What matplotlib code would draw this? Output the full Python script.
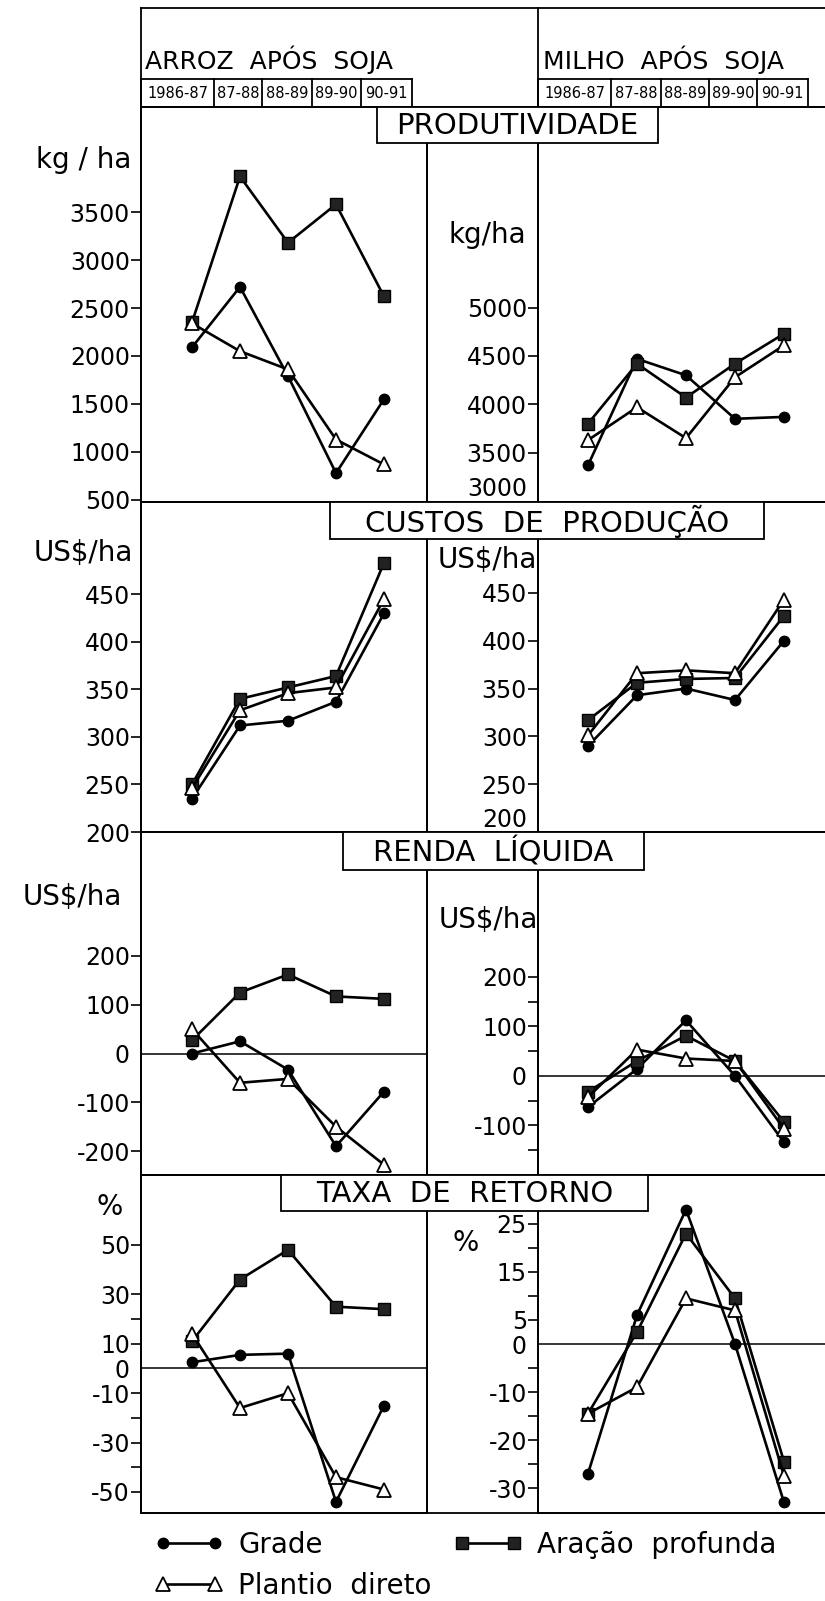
import matplotlib
matplotlib.use("Agg")
import matplotlib.pyplot as plt
from matplotlib.lines import Line2D
from matplotlib.patches import Rectangle

plt.rcParams['font.family'] = ['DejaVu Sans']
plt.rcParams['axes.unicode_minus'] = False

# ---------------- data ----------------
years = ['1986-87', '87-88', '88-89', '89-90', '90-91']
series = ['Grade', 'Aração  profunda', 'Plantio  direto']

arroz_prod_grade = [2090, 2720, 1790, 780, 1550]
arroz_prod_aracao = [2350, 3870, 3180, 3580, 2620]
arroz_prod_plantio = [2340, 2050, 1860, 1130, 870]
milho_prod_grade = [3370, 4470, 4300, 3850, 3870]
milho_prod_aracao = [3800, 4420, 4070, 4420, 4730]
milho_prod_plantio = [3630, 3970, 3650, 4280, 4610]

arroz_custo_grade = [235, 312, 317, 337, 430]
arroz_custo_aracao = [250, 340, 352, 364, 483]
arroz_custo_plantio = [246, 328, 346, 352, 445]
milho_custo_grade = [290, 343, 350, 338, 400]
milho_custo_aracao = [317, 356, 360, 361, 426]
milho_custo_plantio = [301, 366, 369, 366, 443]

arroz_renda_grade = [0, 25, -33, -190, -78]
arroz_renda_aracao = [27, 125, 162, 117, 112]
arroz_renda_plantio = [50, -60, -52, -150, -228]
milho_renda_grade = [-63, 14, 112, 0, -134]
milho_renda_aracao = [-32, 30, 81, 30, -93]
milho_renda_plantio = [-43, 53, 35, 30, -107]

arroz_taxa_grade = [2.5, 5.5, 6, -54, -15]
arroz_taxa_aracao = [11, 36, 48, 25, 24]
arroz_taxa_plantio = [14, -16, -10, -44, -49]
milho_taxa_grade = [-27, 6, 28, 0, -33]
milho_taxa_aracao = [-14.5, 2.5, 23, 9.5, -24.5]
milho_taxa_plantio = [-14.5, -9, 9.5, 7, -27.5]

arroz_prod_ticks = [500, 1000, 1500, 2000, 2500, 3000, 3500]
milho_prod_ticks = [3000, 3500, 4000, 4500, 5000]
custo_ticks = [200, 250, 300, 350, 400, 450]
arroz_renda_ticks = [-200, -100, 0, 100, 200]
milho_renda_ticks = [-100, 0, 100, 200]
milho_renda_minor = [-150, -50, 50, 150]
arroz_taxa_ticks = [-50, -30, -10, 0, 10, 30, 50]
arroz_taxa_minor = [-40, -20, 20]
milho_taxa_ticks = [-30, -20, -10, 0, 5, 15, 25]
milho_taxa_minor = [-25, -15, -5, 10, 20]

# ---------------- layout ----------------
W, H = 825, 1601
fig = plt.figure(figsize=(W / 100, H / 100), dpi=100)
LW = 1.3

def fline(x0, y0, x1, y1, lw=LW):
    fig.add_artist(Line2D([x0 / W, x1 / W], [1 - y0 / H, 1 - y1 / H],
                          transform=fig.transFigure, color='k', lw=lw, zorder=4))

def fbox(x0, y0, x1, y1, z=5):
    fig.add_artist(Rectangle((x0 / W, 1 - y1 / H), (x1 - x0) / W, (y1 - y0) / H,
                             transform=fig.transFigure, fc='white', ec='k', lw=LW, zorder=z))

def add_ax(x0, x1, ytop, ybot):
    return fig.add_axes([x0 / W, 1 - ybot / H, (x1 - x0) / W, (ybot - ytop) / H])

LX0, LX1 = 141, 427
RX0, RX1 = 538, 825
rows = [(107, 502), (502, 832), (832, 1175), (1175, 1513)]
xlim_left = (-(192 - LX0) / 48.0, (LX1 - 192) / 48.0)
xlim_right = (-(588 - RX0) / 49.0, (RX1 - 588) / 49.0)

styles = [
    dict(marker='o', ms=7.5, mfc='black', mec='black'),
    dict(marker='s', ms=8.5, mfc='#222222', mec='black'),
    dict(marker='^', ms=9.5, mfc='white', mec='black', mew=1.3),
]

def setup(ax, xlim, ylim, ticks, minor=None, right=False, zero=False, lift_bottom=False):
    ax.set_xlim(*xlim)
    ax.set_ylim(*ylim)
    ax.set_xticks([])
    ax.set_yticks(ticks)
    ax.set_yticklabels([str(t) for t in ticks])
    if minor:
        ax.set_yticks(minor, minor=True)
    ax.tick_params(axis='y', which='both', direction='out', length=7, width=1.2,
                   labelsize=17, pad=1)
    for s in ax.spines.values():
        s.set_linewidth(LW)
    if right:
        ax.spines['right'].set_visible(False)
    if zero:
        ax.axhline(0, color='k', lw=1.1, zorder=1)
    lowest = min(ticks)
    for t, v in zip(ax.yaxis.get_major_ticks(), ticks):
        if zero and v == 0:
            t.tick1line.set_visible(False)
        if lift_bottom and v == lowest:
            t.tick1line.set_visible(False)
            t.label1.set_verticalalignment('bottom')

def plot3(ax, a, b, c):
    x = list(range(len(years)))
    for vals, st, name in zip([a, b, c], styles, series):
        ax.plot(x, vals, color='black', lw=1.9, label=name, zorder=3, **st)

# Row 1: produtividade
ax = add_ax(LX0, LX1, *rows[0])
setup(ax, xlim_left, (479, 4594), arroz_prod_ticks)
plot3(ax, arroz_prod_grade, arroz_prod_aracao, arroz_prod_plantio)
ax = add_ax(RX0, RX1, *rows[0])
setup(ax, xlim_right, (2990, 7074), milho_prod_ticks, right=True, lift_bottom=True)
plot3(ax, milho_prod_grade, milho_prod_aracao, milho_prod_plantio)

# Row 2: custos
ax = add_ax(LX0, LX1, *rows[1])
setup(ax, xlim_left, (200, 547), custo_ticks)
plot3(ax, arroz_custo_grade, arroz_custo_aracao, arroz_custo_plantio)
ax = add_ax(RX0, RX1, *rows[1])
setup(ax, xlim_right, (200, 545), custo_ticks, right=True, lift_bottom=True)
plot3(ax, milho_custo_grade, milho_custo_aracao, milho_custo_plantio)

# Row 3: renda
ax = add_ax(LX0, LX1, *rows[2])
setup(ax, xlim_left, (-249, 454), arroz_renda_ticks, zero=True)
plot3(ax, arroz_renda_grade, arroz_renda_aracao, arroz_renda_plantio)
ax = add_ax(RX0, RX1, *rows[2])
setup(ax, xlim_right, (-200, 492), milho_renda_ticks, minor=milho_renda_minor,
      right=True, zero=True)
plot3(ax, milho_renda_grade, milho_renda_aracao, milho_renda_plantio)

# Row 4: taxa
ax = add_ax(LX0, LX1, *rows[3])
setup(ax, xlim_left, (-58.5, 78.3), arroz_taxa_ticks, minor=arroz_taxa_minor, zero=True)
plot3(ax, arroz_taxa_grade, arroz_taxa_aracao, arroz_taxa_plantio)
ax = add_ax(RX0, RX1, *rows[3])
setup(ax, xlim_right, (-35.2, 35.2), milho_taxa_ticks, minor=milho_taxa_minor,
      right=True, zero=True)
plot3(ax, milho_taxa_grade, milho_taxa_aracao, milho_taxa_plantio)

# ---------------- frame lines ----------------
for y in [8, 107, 502, 832, 1175, 1513]:
    fline(LX0, y, W, y)
fline(LX0, 8, LX0, 1513)
fline(RX0, 8, RX0, 1513)
fline(LX1, 107, LX1, 1513)

# ---------------- header ----------------
fig.text(145 / W, 1 - 69 / H, 'ARROZ  APÓS  SOJA', fontsize=18, ha='left', va='baseline')
fig.text(543 / W, 1 - 69 / H, 'MILHO  APÓS  SOJA', fontsize=18, ha='left', va='baseline')

left_div = [141, 214, 262, 312, 361, 412]
right_div = [538, 611, 661, 709, 757, 808]
for divs in (left_div, right_div):
    fline(divs[0], 79, divs[-1], 79)
    for xd in divs:
        fline(xd, 79, xd, 107)
    for i, lab in enumerate(years):
        xc = (divs[i] + divs[i + 1]) / 2
        fig.text(xc / W, 1 - 94 / H, lab, fontsize=10.5, ha='center', va='center')

# ---------------- section titles ----------------
titles = [
    ('PRODUTIVIDADE', 377, 107, 658, 143),
    ('CUSTOS  DE  PRODUÇÃO', 330, 502, 764, 539),
    ('RENDA  LÍQUIDA', 343, 832, 644, 870),
    ('TAXA  DE  RETORNO', 281, 1175, 648, 1211),
]
for txt, x0, y0, x1, y1 in titles:
    fbox(x0, y0, x1, y1)
    fig.text((x0 + x1) / 2 / W, 1 - ((y0 + y1) / 2 + 1) / H, txt, fontsize=21,
             ha='center', va='center', zorder=6)

# ---------------- unit labels ----------------
units = [
    ('kg / ha', 84, 160), ('kg/ha', 487, 235),
    ('US$/ha', 83, 553), ('US$/ha', 487, 560),
    ('US$/ha', 72, 897), ('US$/ha', 488, 920),
    ('%', 110, 1207), ('%', 466, 1243),
]
for txt, xc, yc in units:
    fig.text(xc / W, 1 - yc / H, txt, fontsize=20, ha='center', va='center')

# ---------------- legend ----------------
handles = [
    Line2D([], [], color='black', lw=1.9, **styles[0]),
    Line2D([], [], color='black', lw=1.9, **styles[2]),
    Line2D([], [], color='black', lw=1.9, **styles[1]),
]
labels = [series[0], series[2], series[1]]
fig.legend(handles, labels, ncol=2, loc='upper left',
           bbox_to_anchor=(155 / W, 1 - 1531 / H), frameon=False, fontsize=20,
           numpoints=2, handlelength=2.45, handletextpad=0.55, columnspacing=0.8,
           borderpad=0, borderaxespad=0, labelspacing=0.45)

fig.savefig('out.png', dpi=100)
